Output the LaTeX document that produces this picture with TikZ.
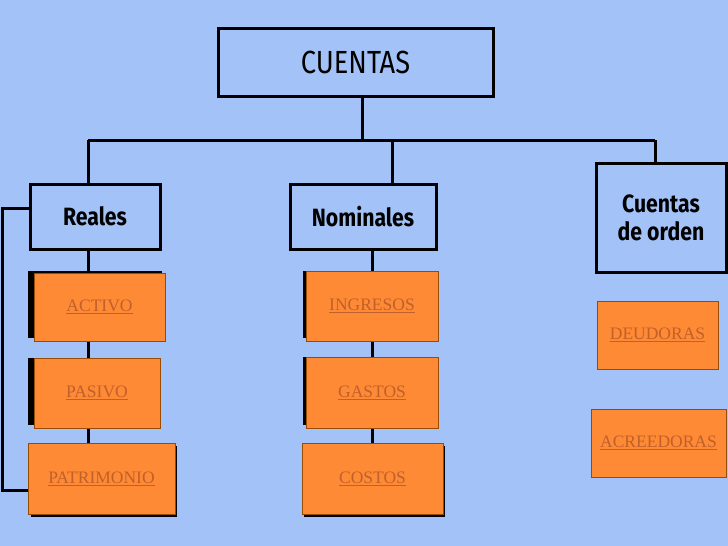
\documentclass[tikz,border=0pt]{standalone}
\usepackage{fontspec}
\setmainfont{Liberation Serif}
\newfontfamily\hfont{Fira Sans}
\begin{document}
\begin{tikzpicture}[x=1pt,y=-1pt,
  hdr/.style={draw=black,line width=3pt,fill=bg,inner sep=0pt,font=\hfont\bfseries\fontsize{25}{28}\selectfont,align=center},
  leaf/.style={draw=orange!60!black,fill=org,line width=0.6pt,inner sep=0pt,font=\fontsize{17.5}{19}\selectfont,text=txt},
  ln/.style={line width=3pt,black}]
\definecolor{bg}{HTML}{A3C2F7}
\definecolor{org}{HTML}{FF8A35}
\definecolor{txt}{HTML}{C0602A}
\fill[bg] (0,0) rectangle (728,546);
\useasboundingbox (0,0) rectangle (728,546);
\node[hdr,font=\hfont\fontsize{32}{34}\selectfont,minimum width=275pt,minimum height=68pt] (c) at (355.5,62) {\scalebox{0.85}[1]{CUENTAS}};
\node[hdr,minimum width=130pt,minimum height=65pt] (r) at (95,216.5) {\scalebox{0.85}[1]{Reales}};
\node[hdr,minimum width=146pt,minimum height=65pt] (n) at (363,216.5) {\scalebox{0.85}[1]{Nominales}};
\node[hdr,minimum width=130pt,minimum height=109pt] (o) at (661,217.5) {\scalebox{0.85}[1]{Cuentas}\\\scalebox{0.85}[1]{de orden}};
\coordinate (j) at (362,140);
\coordinate (jl) at (88,140); \coordinate (jn) at (392,140); \coordinate (jr) at (655,140);
\draw[ln] (c.south -| j) -- (j);
\draw[ln] (jl) -- (jr);
\draw[ln] (jl) -- (jl |- r.north);
\draw[ln] (jn) -- (jn |- n.north);
\draw[ln] (jr) -- (jr |- o.north);
\coordinate (rb) at (88,443); \coordinate (nb) at (372,443);
\draw[ln] (r.south -| rb) -- (rb);
\draw[ln] (n.south -| nb) -- (nb);
\fill[black] (28,271) rectangle (162,338);
\fill[black] (28,358) rectangle (160,425);
\fill[black] (31,446) rectangle (177,517);
\fill[black] (303,271) rectangle (436,338);
\fill[black] (303,357) rectangle (436,425);
\fill[black] (304,446) rectangle (445,517);
\node[leaf,minimum width=131pt,minimum height=68pt] (a) at (99.5,307) {\underline{ACTIVO}};
\node[leaf,minimum width=126pt,minimum height=70pt] (p) at (97,393) {\underline{PASIVO}};
\node[leaf,minimum width=147pt,minimum height=71pt] (pt) at (101.5,478.5) {\underline{PATRIMONIO}};
\node[leaf,minimum width=132pt,minimum height=70pt] (i) at (372,306) {\underline{INGRESOS}};
\node[leaf,minimum width=132pt,minimum height=71pt] (g) at (372,392.5) {\underline{GASTOS}};
\node[leaf,minimum width=141pt,minimum height=71pt] (co) at (372.5,478.5) {\underline{COSTOS}};
\node[leaf,minimum width=121pt,minimum height=68pt] (d) at (657.5,335) {\underline{DEUDORAS}};
\node[leaf,minimum width=135pt,minimum height=68pt] (ac) at (658.5,443) {\underline{ACREEDORAS}};
\coordinate (b1) at (2,208); \coordinate (b2) at (2,490);
\draw[ln] (r.west |- b1) -- (b1) -- (b2) -- (pt.west |- b2);
\end{tikzpicture}
\end{document}
